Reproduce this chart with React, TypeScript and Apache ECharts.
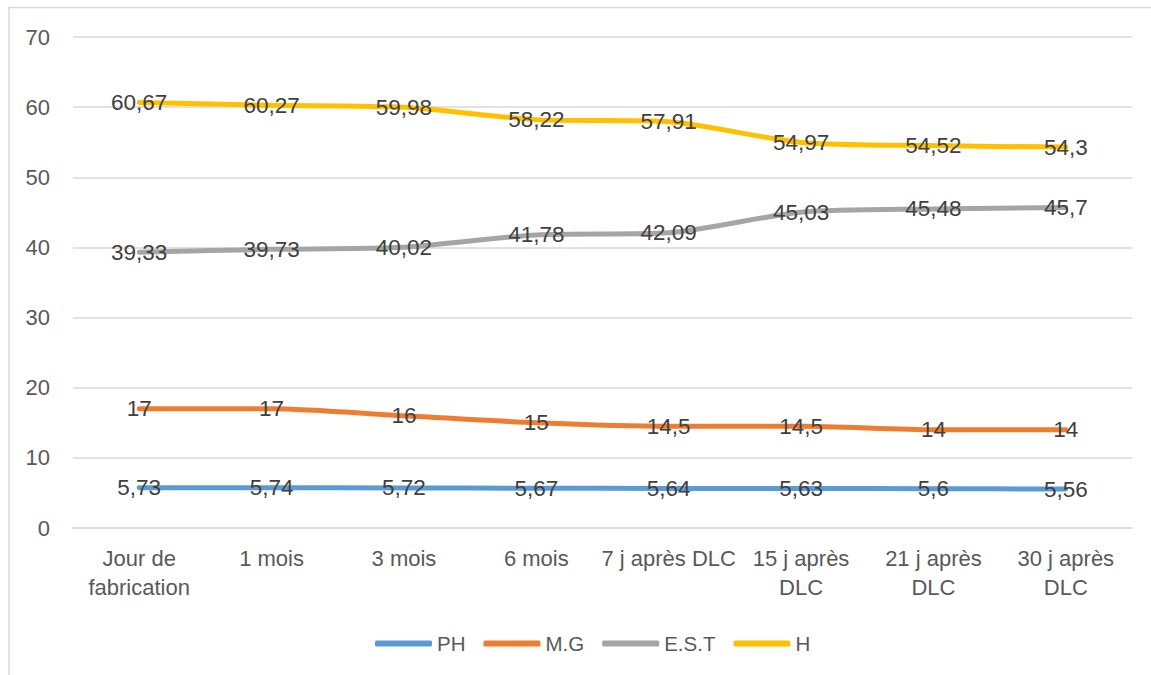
import React, { useEffect, useRef } from "react";
import * as echarts from "echarts";

const categories = [
  "Jour de\nfabrication",
  "1 mois",
  "3 mois",
  "6 mois",
  "7 j après DLC",
  "15 j après\nDLC",
  "21 j après\nDLC",
  "30 j après\nDLC",
];

const phValues = [5.73, 5.74, 5.72, 5.67, 5.64, 5.63, 5.6, 5.56];
const mgValues = [17, 17, 16, 15, 14.5, 14.5, 14, 14];
const estValues = [39.33, 39.73, 40.02, 41.78, 42.09, 45.03, 45.48, 45.7];
const hValues = [60.67, 60.27, 59.98, 58.22, 57.91, 54.97, 54.52, 54.3];

const yTicks = { min: 0, max: 70, interval: 10 };

const FONT = "'Liberation Sans', Arial, sans-serif";

const makeSeries = (name: string, data: number[], color: string) => ({
  name,
  type: "line",
  data,
  smooth: 0.25,
  symbol: "circle",
  symbolSize: 1,
  color,
  itemStyle: { color },
  lineStyle: { color, width: 5, cap: "round" },
  label: {
    show: true,
    position: "inside",
    color: "#404040",
    fontFamily: FONT,
    fontSize: 22.5,
    formatter: (p: any) => String(p.value).replace(".", ","),
  },
});

export default function App() {
  const ref = useRef<HTMLDivElement>(null);

  useEffect(() => {
    if (!ref.current) return;
    const chart = echarts.init(ref.current, null, { renderer: "svg" });
    chart.setOption({
      animation: false,
      backgroundColor: "#ffffff",
      textStyle: { fontFamily: FONT },
      graphic: [
        {
          type: "rect",
          shape: { x: 9, y: 7.5, width: 1160, height: 700 },
          style: { fill: "none", stroke: "#d9d9d9", lineWidth: 1.5 },
          silent: true,
          z: -10,
        },
      ],
      grid: { left: 73, right: 19, top: 37, bottom: 147 },
      xAxis: {
        type: "category",
        data: categories,
        boundaryGap: true,
        axisTick: { show: false },
        axisLine: { lineStyle: { color: "#d9d9d9", width: 1.5 } },
        axisLabel: {
          color: "#595959",
          fontFamily: FONT,
          fontSize: 22,
          lineHeight: 29,
          margin: 16,
          interval: 0,
        },
      },
      yAxis: {
        type: "value",
        min: yTicks.min,
        max: yTicks.max,
        interval: yTicks.interval,
        axisLine: { show: false },
        axisTick: { show: false },
        splitLine: { lineStyle: { color: "#d9d9d9", width: 1.5 } },
        axisLabel: {
          color: "#595959",
          fontFamily: FONT,
          fontSize: 22,
          margin: 23,
        },
      },
      legend: {
        top: 628,
        left: 370,
        icon: "roundRect",
        itemWidth: 57,
        itemHeight: 6,
        itemGap: 18,
        textStyle: { color: "#595959", fontFamily: FONT, fontSize: 20.5 },
        data: ["PH", "M.G", "E.S.T", "H"],
      },
      series: [
        makeSeries("PH", phValues, "#5B9BD5"),
        makeSeries("M.G", mgValues, "#ED7D31"),
        makeSeries("E.S.T", estValues, "#A5A5A5"),
        makeSeries("H", hValues, "#FFC000"),
      ],
    });
    return () => chart.dispose();
  }, []);

  return (
    <div
      ref={ref}
      style={{ position: "absolute", left: 0, top: 0, width: 1151, height: 675 }}
    />
  );
}
